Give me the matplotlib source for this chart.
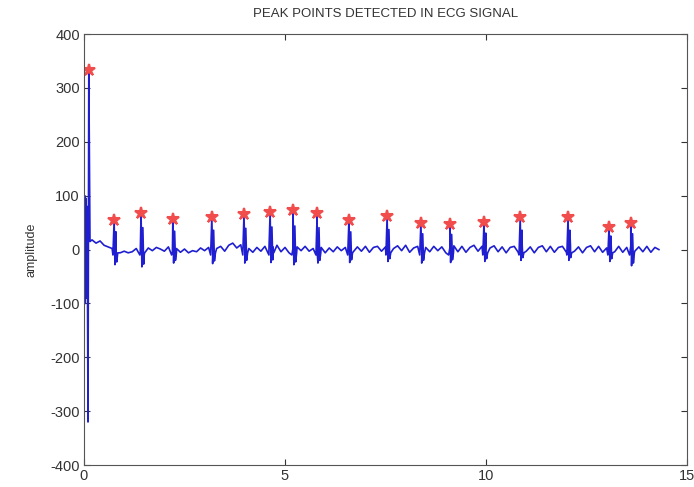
import numpy as np
import matplotlib
matplotlib.use('Agg')
import matplotlib.pyplot as plt

plt.rcParams['font.family'] = ['Liberation Sans', 'DejaVu Sans']
plt.rcParams['axes.unicode_minus'] = False

# detected R peaks (seconds, amplitude)
peak_t = [0.12, 0.75, 1.42, 2.21, 3.18, 3.98, 4.63, 5.2, 5.8, 6.59,
          7.54, 8.38, 9.1, 9.95, 10.85, 12.04, 13.06, 13.6]
peak_v = [334, 55, 68, 57, 60, 66, 70, 73, 68, 55,
          62, 49, 47, 51, 60, 60, 42, 49]
trough_v = [-320, -28, -32, -25, -26, -25, -24, -28, -25, -24,
            -22, -25, -24, -22, -20, -20, -22, -30]

# start-up transient of the filter
start_t = [0.0, 0.02, 0.03, 0.05, 0.06, 0.08, 0.1, 0.12, 0.15]
start_v = [0, 100, -100, 95, -90, 80, -320, 334, 15]

# baseline wander between beats, sampled every 0.1 s from 0.2 s
baseline = [
    18, 12, 16, 8, 5, 2, -8, -6, -3, -6,
    -4, 2, -5, -9, 3, -2, 4, 1, -3, 5,
    -4, 2, -5, 1, -6, -2, -4, 3, -2, 4,
    -6, 2, 6, -3, 8, 12, 3, 9, -4, 2,
    -5, 4, -3, 6, -2, 5, 8, -4, 4, -6,
    3, 5, -2, 6, -3, 2, -5, 4, -6, 3,
    -4, 5, -2, 4, 8, -4, 5, -3, 6, -5,
    4, 6, -3, 5, -6, 2, 7, -2, 8, -5,
    3, 6, -5, 4, -4, 6, -2, 5, -6, 3,
    7, -4, 6, -5, 4, 8, -3, 6, -5, 3,
    7, -4, 5, -6, 4, 6, -5, 7, -3, 5,
    -6, 4, 7, -4, 6, -5, 4, 6, -5, 7,
    -3, 5, -6, 4, 7, -4, 6, -5, 3, 8,
    -4, 6, -5, 4, 7, -3, 5, -4, 6, -5,
    4, 0,
]

base_t = 0.2 + 0.1 * np.arange(len(baseline))

# assemble the trace: baseline samples plus each QRS complex
t = list(start_t) + list(base_t)
v = list(start_v) + list(baseline)
for pt, pv, tv in zip(peak_t[1:], peak_v[1:], trough_v[1:]):
    t += [pt - 0.03, pt, pt + 0.02, pt + 0.045, pt + 0.065, pt + 0.09]
    v += [-10, pv, tv, 0.6 * pv, tv + 5, -6]
order = np.argsort(t, kind='stable')
t = np.array(t)[order]
v = np.array(v)[order]

fig = plt.figure(figsize=(6.94, 4.87), dpi=100)
ax = fig.add_axes([0.121, 0.045, 0.869, 0.885])

ax.plot(t, v, color=(0.12, 0.12, 0.82), linewidth=1.2)
ax.plot(peak_t, peak_v, linestyle='none', marker='*', markersize=9,
        color=(0.95, 0.3, 0.3), markeredgewidth=1.5)

ax.set_xlim(0, 15)
ax.set_ylim(-400, 400)
ax.set_xticks([0, 5, 10, 15])
ax.set_yticks(range(-400, 401, 100))
ax.tick_params(direction='in', top=True, right=True, labelsize=10.5,
               colors='#333333', length=4, pad=3)
for s in ax.spines.values():
    s.set_color('#555555')
ax.set_ylabel('amplitude', fontsize=9, color='#333333', labelpad=9)
ax.set_title('PEAK POINTS DETECTED IN ECG SIGNAL', fontsize=9.5,
             color='#333333', pad=12)

fig.savefig('out.png', dpi=100)
